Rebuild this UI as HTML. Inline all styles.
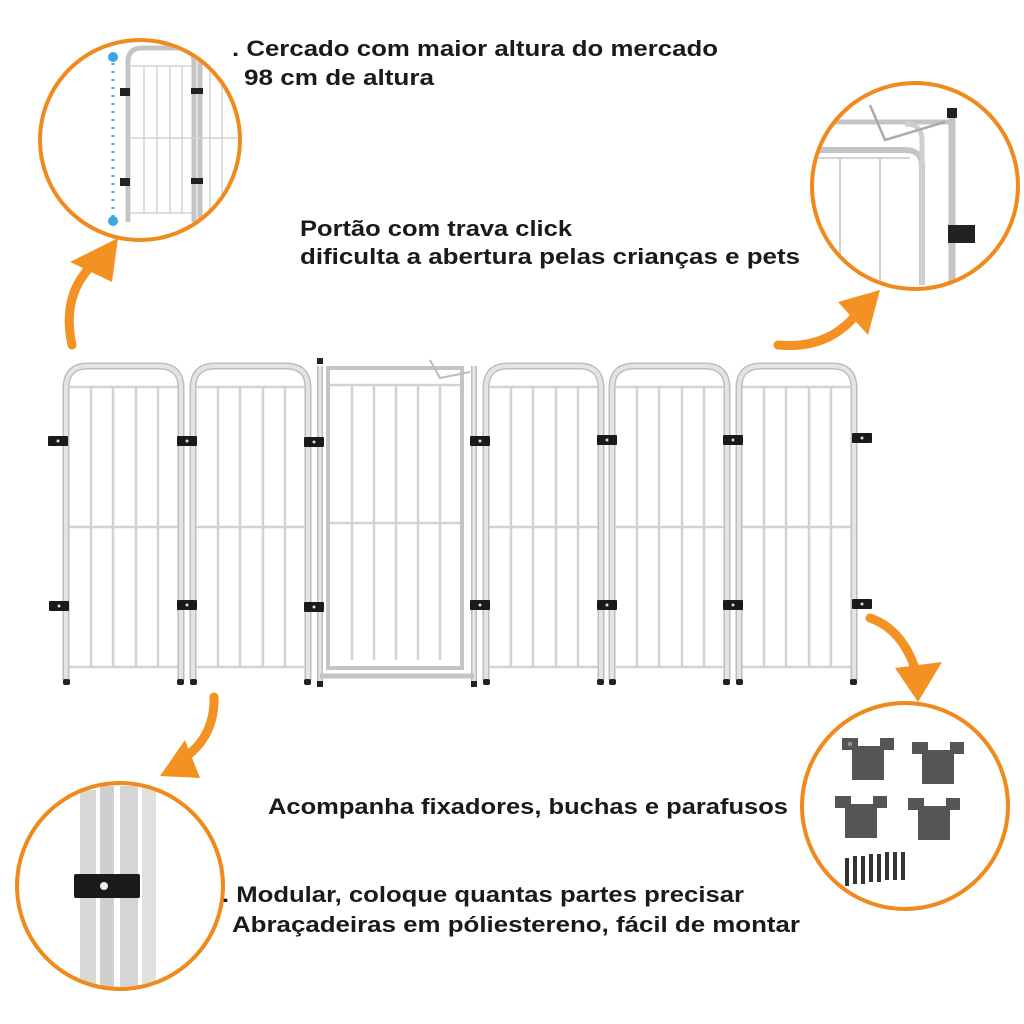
<!DOCTYPE html>
<html><head><meta charset="utf-8"><style>
html,body{margin:0;padding:0;background:#fff}
svg{display:block}
text{font-family:"Liberation Sans",sans-serif;font-weight:bold;fill:#1a1a1a;font-size:22px}
</style></head><body>
<svg width="1024" height="1024" viewBox="0 0 1024 1024" xmlns="http://www.w3.org/2000/svg">
<defs>
<clipPath id="c1"><circle cx="140" cy="140" r="98"/></clipPath>
<clipPath id="c2"><circle cx="915" cy="186" r="101"/></clipPath>
<clipPath id="c3"><circle cx="905" cy="806" r="101"/></clipPath>
<clipPath id="c4"><circle cx="120" cy="886" r="101"/></clipPath>
<g id="panel">
  <path d="M4,318 V26 Q4,4 26,4 H97 Q119,4 119,26 V318" fill="none" stroke="#bdbdbd" stroke-width="7"/>
  <path d="M4,318 V26 Q4,4 26,4 H97 Q119,4 119,26 V318" fill="none" stroke="#e4e4e4" stroke-width="4"/>
  <g stroke="#d2d2d2" stroke-width="2.5" fill="none">
    <line x1="7" y1="25" x2="116" y2="25"/>
    <line x1="7" y1="165" x2="116" y2="165"/>
    <line x1="7" y1="305" x2="116" y2="305"/>
    <line x1="29" y1="25" x2="29" y2="305"/>
    <line x1="51" y1="25" x2="51" y2="305"/>
    <line x1="74" y1="25" x2="74" y2="305"/>
    <line x1="96" y1="25" x2="96" y2="305"/>
  </g>
  <rect x="1" y="317" width="7" height="6" rx="2" fill="#222"/>
  <rect x="115" y="317" width="7" height="6" rx="2" fill="#222"/>
</g>
<g id="clamp"><rect x="-10" y="-5" width="20" height="10" rx="1" fill="#1a1a1a"/><circle r="1.5" fill="#ddd"/></g>
</defs>

<use href="#panel" x="62" y="362"/>
<use href="#panel" x="189" y="362"/>
<use href="#panel" x="482" y="362"/>
<use href="#panel" x="608" y="362"/>
<use href="#panel" x="735" y="362"/>

<g>
  <line x1="320" y1="366" x2="320" y2="683" stroke="#bdbdbd" stroke-width="6"/>
  <line x1="320" y1="366" x2="320" y2="683" stroke="#e6e6e6" stroke-width="3"/>
  <line x1="474" y1="366" x2="474" y2="683" stroke="#bdbdbd" stroke-width="6"/>
  <line x1="474" y1="366" x2="474" y2="683" stroke="#e6e6e6" stroke-width="3"/>
  <rect x="328" y="368" width="134" height="300" fill="none" stroke="#c4c4c4" stroke-width="4"/>
  <line x1="320" y1="676" x2="474" y2="676" stroke="#c4c4c4" stroke-width="5"/>
  <g stroke="#d2d2d2" stroke-width="2.5">
    <line x1="330" y1="385" x2="460" y2="385"/>
    <line x1="330" y1="523" x2="460" y2="523"/>
    <line x1="352" y1="385" x2="352" y2="660"/>
    <line x1="374" y1="385" x2="374" y2="660"/>
    <line x1="396" y1="385" x2="396" y2="660"/>
    <line x1="418" y1="385" x2="418" y2="660"/>
    <line x1="440" y1="385" x2="440" y2="660"/>
  </g>
  <path d="M430,360 L440,378 L470,372" fill="none" stroke="#bbb" stroke-width="2"/>
  <rect x="317" y="358" width="6" height="6" fill="#222"/>
  <rect x="317" y="681" width="6" height="6" fill="#222"/>
  <rect x="471" y="681" width="6" height="6" fill="#222"/>
</g>

<use href="#clamp" x="58" y="441"/><use href="#clamp" x="59" y="606"/>
<use href="#clamp" x="187" y="441"/><use href="#clamp" x="187" y="605"/>
<use href="#clamp" x="314" y="442"/><use href="#clamp" x="314" y="607"/>
<use href="#clamp" x="480" y="441"/><use href="#clamp" x="480" y="605"/>
<use href="#clamp" x="607" y="440"/><use href="#clamp" x="607" y="605"/>
<use href="#clamp" x="733" y="440"/><use href="#clamp" x="733" y="605"/>
<use href="#clamp" x="862" y="438"/><use href="#clamp" x="862" y="604"/>

<g clip-path="url(#c1)">
  <line x1="113" y1="55" x2="113" y2="220" stroke="#39a8e0" stroke-width="3" stroke-dasharray="2 6"/>
  <circle cx="113" cy="57" r="5" fill="#39a8e0"/><circle cx="113" cy="221" r="5" fill="#39a8e0"/>
  <path d="M128,222 V62 Q128,48 142,48 H180 Q194,48 194,62 V222" fill="none" stroke="#c4c4c4" stroke-width="5"/>
  <line x1="200" y1="55" x2="200" y2="222" stroke="#c4c4c4" stroke-width="5"/>
  <g stroke="#d4d4d4" stroke-width="1.5">
    <line x1="130" y1="66" x2="192" y2="66"/><line x1="130" y1="138" x2="240" y2="138"/><line x1="130" y1="213" x2="192" y2="213"/>
    <line x1="144" y1="66" x2="144" y2="213"/><line x1="157" y1="66" x2="157" y2="213"/><line x1="170" y1="66" x2="170" y2="213"/><line x1="182" y1="66" x2="182" y2="213"/>
    <line x1="210" y1="66" x2="210" y2="213"/><line x1="222" y1="66" x2="222" y2="213"/>
  </g>
  <rect x="120" y="88" width="10" height="8" fill="#222"/><rect x="120" y="178" width="10" height="8" fill="#222"/>
  <rect x="191" y="88" width="12" height="6" fill="#222"/><rect x="191" y="178" width="12" height="6" fill="#222"/>
</g>

<g clip-path="url(#c2)">
  <line x1="805" y1="122" x2="950" y2="122" stroke="#c4c4c4" stroke-width="5"/>
  <path d="M805,150 H905 Q922,150 922,166 V285" fill="none" stroke="#c4c4c4" stroke-width="6"/>
  <path d="M905,124 Q922,124 922,140 V285" fill="none" stroke="#cfcfcf" stroke-width="5"/>
  <line x1="952" y1="110" x2="952" y2="290" stroke="#c4c4c4" stroke-width="7"/>
  <rect x="947" y="108" width="10" height="10" fill="#222"/>
  <path d="M948,225 L975,225 L975,243 L948,243 Z" fill="#222"/>
  <g stroke="#d2d2d2" stroke-width="2"><line x1="840" y1="158" x2="840" y2="290"/><line x1="880" y1="158" x2="880" y2="290"/><line x1="808" y1="158" x2="910" y2="158"/></g>
  <path d="M870,105 L885,140 L945,122" fill="none" stroke="#aaa" stroke-width="2.5"/>
</g>

<g clip-path="url(#c4)">
  <rect x="80" y="790" width="16" height="200" fill="#d8d8d8"/>
  <rect x="100" y="786" width="14" height="204" fill="#cfcfcf"/>
  <rect x="120" y="786" width="18" height="204" fill="#d5d5d5"/>
  <rect x="142" y="786" width="14" height="204" fill="#e0e0e0"/>
  <rect x="74" y="874" width="66" height="24" rx="2" fill="#1a1a1a"/>
  <circle cx="104" cy="886" r="4" fill="#eee"/>
</g>

<g fill="#555" clip-path="url(#c3)">
  <g transform="translate(842,738)"><path d="M0,0 h16 v8 h22 v-8 h14 v12 h-10 v30 h-32 v-30 h-10 z"/><circle cx="8" cy="6" r="2" fill="#999"/></g>
  <g transform="translate(912,742)"><path d="M0,0 h16 v8 h22 v-8 h14 v12 h-10 v30 h-32 v-30 h-10 z"/></g>
  <g transform="translate(835,796)"><path d="M0,0 h16 v8 h22 v-8 h14 v12 h-10 v30 h-32 v-30 h-10 z"/></g>
  <g transform="translate(908,798)"><path d="M0,0 h16 v8 h22 v-8 h14 v12 h-10 v30 h-32 v-30 h-10 z"/></g>
  <g fill="#333">
    <rect x="845" y="858" width="4" height="28"/><rect x="853" y="856" width="4" height="28"/><rect x="861" y="856" width="4" height="28"/><rect x="869" y="854" width="4" height="28"/><rect x="877" y="854" width="4" height="28"/><rect x="885" y="852" width="4" height="28"/><rect x="893" y="852" width="4" height="28"/><rect x="901" y="852" width="4" height="28"/>
  </g>
</g>

<g fill="none" stroke="#f08a1c" stroke-width="4">
  <circle cx="140" cy="140" r="100"/>
  <circle cx="915" cy="186" r="103"/>
  <circle cx="905" cy="806" r="103"/>
  <circle cx="120" cy="886" r="103"/>
</g>

<g fill="none" stroke="#f39222" stroke-width="9" stroke-linecap="round">
  <path d="M72,345 Q60,290 100,258"/>
  <path d="M778,345 Q830,350 860,310"/>
  <path d="M870,618 Q905,630 918,678"/>
  <path d="M214,697 Q215,740 178,762"/>
</g>
<g fill="#f39222">
  <polygon points="70,262 118,238 112,282"/>
  <polygon points="838,302 880,290 868,335"/>
  <polygon points="895,668 942,662 918,702"/>
  <polygon points="185,740 200,778 160,776"/>
</g>

<text x="232" y="56" textLength="486" lengthAdjust="spacingAndGlyphs">. Cercado com maior altura do mercado</text>
<text x="244" y="85" textLength="190" lengthAdjust="spacingAndGlyphs">98 cm de altura</text>
<text x="300" y="236" textLength="272" lengthAdjust="spacingAndGlyphs">Portão com trava click</text>
<text x="300" y="264" textLength="500" lengthAdjust="spacingAndGlyphs">dificulta a abertura pelas crianças e pets</text>
<text x="268" y="814" textLength="520" lengthAdjust="spacingAndGlyphs">Acompanha fixadores, buchas e parafusos</text>
<text x="222" y="902" textLength="522" lengthAdjust="spacingAndGlyphs">. Modular, coloque quantas partes precisar</text>
<text x="232" y="932" textLength="568" lengthAdjust="spacingAndGlyphs">Abraçadeiras em póliestereno, fácil de montar</text>
</svg>
</body></html>
